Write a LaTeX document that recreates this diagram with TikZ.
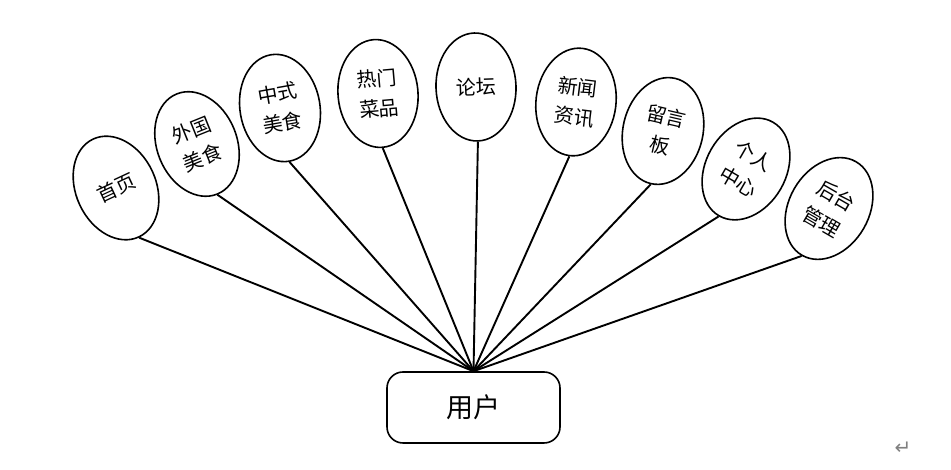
\documentclass[tikz,border=0pt]{standalone}
\usepackage{fontspec}
\newfontfamily\cjk{Noto Sans CJK SC}
\newfontfamily\symfont{DejaVu Sans}
\usetikzlibrary{shapes.geometric}
\tikzset{
  topic/.style={ellipse, draw, line width=1.6pt, inner sep=0pt, minimum width=80pt, minimum height=108pt, align=center, font=\cjk\fontsize{20}{30}\selectfont},
  userbox/.style={draw, line width=1.6pt, rounded corners=16pt, minimum width=173pt, minimum height=71pt, font=\cjk\fontsize{27}{30}\selectfont},
  link/.style={line width=1.9pt}
}
\begin{document}
\begin{tikzpicture}[x=1pt,y=1pt]
\useasboundingbox (0,0) rectangle (951,470);
\node[userbox] (u) at (473.5,62.5) {用户};
\coordinate (hub) at (u.north);
\node[topic, rotate=25] (e1) at (116,282) {首页};
\node[topic, rotate=22] (e2) at (197,326) {外国\\美食};
\node[topic, rotate=10] (e3) at (280,362) {中式\\美食};
\node[topic, rotate=5] (e4) at (378,376.5) {热门\\菜品};
\node[topic, rotate=2] (e5) at (476,383) {论坛};
\node[topic, rotate=-7] (e6) at (576,368) {新闻\\资讯};
\node[topic, rotate=-13] (e7) at (663,339) {留言\\板};
\node[topic, rotate=-30] (e8) at (746,301) {个人\\中心};
\node[topic, rotate=-30] (e9) at (829,261.5) {后台\\管理};
\foreach \i in {1,...,9} {\draw[link] (e\i.south) -- (hub);}
\node[text=gray, font=\symfont\fontsize{20}{20}\selectfont] (ret) at (903,22) {↵};
\end{tikzpicture}
\end{document}
